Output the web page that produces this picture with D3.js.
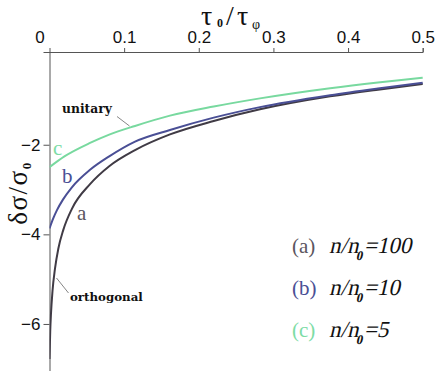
<!DOCTYPE html>
<html><head><meta charset="utf-8">
<script src="https://cdn.jsdelivr.net/npm/d3@7"></script>
<style>body{margin:0;background:#fff}svg{display:block}</style>
</head><body><svg id="c" width="436" height="371"></svg>
<script>
const xTicks = [0, 0.1, 0.2, 0.3, 0.4, 0.5];
const xTickLabels = ["0", "0.1", "0.2", "0.3", "0.4", "0.5"];
const yTicks = [-2, -4, -6];
const yTickLabels = ["\u22122", "\u22124", "\u22126"];
const seriesNames = ["a", "b", "c"];
const legendLabels = ["100", "10", "5"];
// x = tau0/tauphi, y = delta sigma / sigma0
const xA = [0, 0.001, 0.002, 0.004, 0.0074, 0.0118, 0.0185, 0.03, 0.0543, 0.08, 0.1146, 0.1614, 0.22, 0.282, 0.376, 0.44, 0.5];
const yA = [-6.78, -6.15, -5.77, -5.27, -4.76, -4.32, -3.90, -3.43, -2.88, -2.48, -2.12, -1.77, -1.47, -1.21, -0.92, -0.77, -0.644];
const xB = [0, 0.005, 0.01, 0.018, 0.03, 0.0543, 0.08, 0.1146, 0.1614, 0.22, 0.282, 0.376, 0.44, 0.5];
const yB = [-3.87, -3.645, -3.46, -3.225, -2.95, -2.56, -2.26, -1.93, -1.67, -1.395, -1.16, -0.895, -0.745, -0.615];
const xC = [0, 0.02, 0.0543, 0.08, 0.1146, 0.1614, 0.22, 0.282, 0.376, 0.44, 0.5];
const yC = [-2.50, -2.26, -1.96, -1.774, -1.58, -1.35, -1.147, -0.965, -0.738, -0.61, -0.504];

const colors = {a: "#403b45", b: "#4a4f95", c: "#78d99f"};
const labelColors = {a: "#5b5560", b: "#4a4f95", c: "#7ddca5"};
const serif = "'Liberation Serif', 'Times New Roman', serif";
const sans = "'Liberation Sans', Arial, sans-serif";

const svg = d3.select("#c");
const x = d3.scaleLinear().domain([0, 0.5]).range([49.5, 422.7]);
const y = d3.scaleLinear().domain([0.07, -7.05]).range([52, 371]);

svg.append("defs").append("clipPath").attr("id", "clip")
  .append("rect").attr("x", 49.5).attr("y", 52).attr("width", 380).attr("height", 320);

// axes
const topAxis = d3.axisTop(x).tickValues(xTicks).tickSize(4).tickFormat((d, i) => xTickLabels[i]);
const gx = svg.append("g").attr("transform", "translate(0,52)").call(topAxis);
gx.select(".domain").attr("stroke", "#555").attr("stroke-width", 1);
gx.selectAll(".tick line").attr("stroke", "#555");
gx.selectAll(".tick text").attr("font-family", sans).attr("font-size", 17).attr("fill", "#111").attr("dy", "-2");
gx.selectAll(".tick").filter(d => d === 0).select("text").attr("dx", -10);
gx.selectAll(".tick").filter(d => d === 0).select("line").remove();

const leftAxis = d3.axisLeft(y).tickValues(yTicks).tickSize(6).tickFormat((d, i) => yTickLabels[i]);
const gy = svg.append("g").attr("transform", "translate(49.5,0)").call(leftAxis);
gy.select(".domain").attr("stroke", "#555").attr("stroke-width", 1);
gy.selectAll(".tick line").attr("stroke", "#555");
gy.selectAll(".tick text").attr("font-family", sans).attr("font-size", 17).attr("fill", "#111");

// titles
const tt = svg.append("text").attr("y", 25)
  .attr("font-family", serif).attr("font-size", 28).attr("fill", "#111");
tt.append("tspan").text("\u03c4").attr("x", 201);
tt.append("tspan").text("0").attr("font-size", 12).attr("font-weight", "bold").attr("x", 217).attr("dy", 2);
tt.append("tspan").text("/").attr("x", 226).attr("dy", -2);
tt.append("tspan").text("\u03c4").attr("x", 237);
tt.append("tspan").text("\u03c6").attr("font-size", 14).attr("x", 252).attr("dy", 4);

const yt = svg.append("text").attr("transform", "translate(27,193) rotate(-90)").attr("text-anchor", "middle")
  .attr("font-family", serif).attr("font-size", 27).attr("letter-spacing", 1.5).attr("fill", "#111");
yt.append("tspan").text("\u03b4\u03c3/\u03c3");
yt.append("tspan").text("0").attr("font-size", 13).attr("font-weight", "bold").attr("dy", 4);

// curves
const line = d3.line().x(d => x(d[0])).y(d => y(d[1])).curve(d3.curveMonotoneX);
const series = {a: d3.zip(xA, yA), b: d3.zip(xB, yB), c: d3.zip(xC, yC)};
const plot = svg.append("g").attr("clip-path", "url(#clip)");
seriesNames.forEach(k => {
  plot.append("path").datum(series[k]).attr("d", line).attr("fill", "none")
    .attr("stroke", colors[k]).attr("stroke-width", 2);
});

// curve letters
[["c", 53, 155], ["b", 62, 183], ["a", 77, 220]].forEach(([k, px, py]) => {
  svg.append("text").attr("x", px).attr("y", py).text(k).attr("font-family", serif)
    .attr("font-size", 21).attr("fill", labelColors[k]);
});

// annotations
svg.append("text").attr("x", 62).attr("y", 113).text("unitary").attr("font-family", "'DejaVu Serif', serif")
  .attr("font-weight", "bold").attr("font-size", 12.3).attr("fill", "#111");
svg.append("line").attr("x1", 117).attr("y1", 116.5).attr("x2", 129.5).attr("y2", 126).attr("stroke", "#666").attr("stroke-width", 0.8);
svg.append("text").attr("x", 70).attr("y", 301).text("orthogonal").attr("font-family", "'DejaVu Serif', serif")
  .attr("font-weight", "bold").attr("font-size", 11.8).attr("fill", "#111");
svg.append("line").attr("x1", 56.5).attr("y1", 278).attr("x2", 68.5).attr("y2", 293).attr("stroke", "#666").attr("stroke-width", 0.8);

// legend
const legY = [253, 295, 337];
seriesNames.forEach((k, i) => {
  svg.append("text").attr("x", 292).attr("y", legY[i]).text("(" + k + ")")
    .attr("font-family", serif).attr("font-size", 21).attr("fill", labelColors[k]);
  const t = svg.append("text").attr("transform", `translate(329,${legY[i]}) skewX(-13)`)
    .attr("font-family", serif).attr("font-size", 23).attr("fill", "#111");
  t.append("tspan").text("n/n");
  t.append("tspan").text("0").attr("font-size", 13).attr("font-weight", "bold").attr("dy", 7).attr("dx", -1);
  t.append("tspan").text("=" + legendLabels[i]).attr("dy", -7);
});
</script></body></html>
